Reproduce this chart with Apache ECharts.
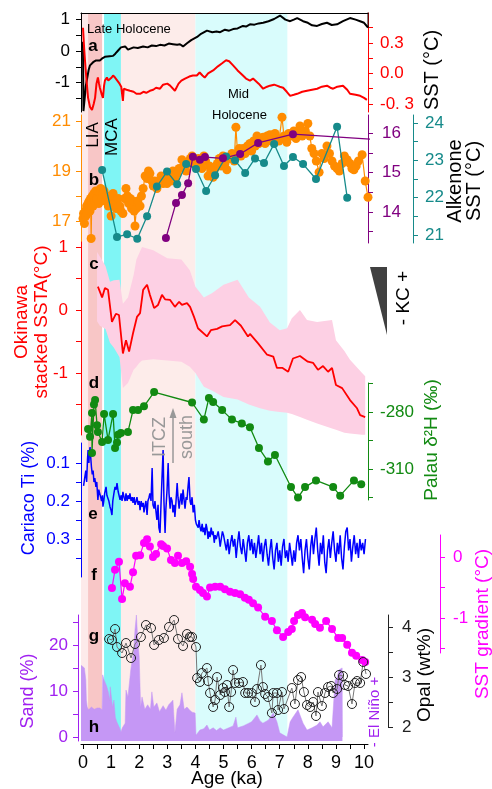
<!DOCTYPE html>
<html><head><meta charset="utf-8">
<script src="https://cdn.jsdelivr.net/npm/echarts@6/dist/echarts.min.js"></script>
<style>html,body{margin:0;padding:0;background:#fff}#c{width:492px;height:789px}</style>
</head><body><div id="c"></div><script>
// ---------------- DATA ----------------
const ageTicks = [0,1,2,3,4,5,6,7,8,9,10];
const periods = { pre:[-0.071,0.18], lia:[0.18,0.68], mca:[0.75,1.35], late:[1.35,4.0], mid:[4.0,7.27] };
const globalT = [[0.0,0.3],[0.015,-1.9],[0.06,-1.5],[0.1,-1.1],[0.14,-0.9],[0.2,-0.6],[0.25,-0.45],[0.3,-0.4],[0.36,-0.35],[0.45,-0.3],[0.52,-0.33],[0.6,-0.3],[0.7,-0.22],[0.78,-0.18],[0.85,-0.2],[0.95,-0.16],[1.07,-0.15],[1.15,-0.08],[1.25,0.02],[1.35,0.12],[1.42,0.17],[1.5,0.15],[1.6,0.05],[1.67,0.07],[1.8,0.12],[1.95,0.1],[2.14,0.15],[2.3,0.12],[2.45,0.18],[2.6,0.16],[2.74,0.2],[2.9,0.18],[3.05,0.24],[3.2,0.22],[3.35,0.2],[3.45,0.22],[3.56,0.15],[3.7,0.25],[3.85,0.35],[4.06,0.45],[4.2,0.55],[4.41,0.65],[4.6,0.6],[4.75,0.62],[4.88,0.6],[5.05,0.68],[5.2,0.65],[5.34,0.7],[5.5,0.72],[5.69,0.8],[5.8,0.78],[5.94,0.85],[6.1,0.84],[6.25,0.88],[6.41,0.9],[6.6,0.95],[6.8,1.02],[7.01,1.13],[7.2,1.0],[7.37,0.95],[7.5,1.0],[7.62,1.05],[7.83,0.95],[8.0,0.9],[8.15,0.82],[8.33,0.8],[8.5,0.86],[8.68,0.9],[8.85,0.83],[9.04,0.85],[9.25,0.95],[9.5,1.05],[9.7,1.0],[9.86,0.95],[10.0,0.9],[10.14,0.75]];
const regionalSST = [[0.0,0.45],[0.04,0.25],[0.07,0.13],[0.12,-0.05],[0.18,-0.24],[0.25,-0.33],[0.32,-0.36],[0.38,-0.3],[0.43,-0.24],[0.48,-0.1],[0.53,-0.04],[0.57,-0.1],[0.6,-0.14],[0.66,-0.2],[0.71,-0.24],[0.75,-0.12],[0.78,-0.07],[0.85,-0.04],[0.9,-0.07],[0.96,-0.06],[1.02,-0.04],[1.07,-0.02],[1.14,-0.04],[1.21,-0.05],[1.3,-0.1],[1.36,-0.13],[1.42,-0.27],[1.45,-0.15],[1.55,-0.16],[1.67,-0.17],[1.8,-0.18],[1.9,-0.2],[2.03,-0.2],[2.15,-0.18],[2.25,-0.19],[2.38,-0.17],[2.5,-0.16],[2.6,-0.14],[2.74,-0.15],[2.85,-0.11],[3.0,-0.1],[3.1,-0.12],[3.27,-0.17],[3.4,-0.1],[3.5,-0.07],[3.63,-0.05],[3.78,-0.03],[3.91,-0.02],[4.05,-0.02],[4.15,0.01],[4.25,-0.02],[4.33,-0.04],[4.45,0.0],[4.63,0.03],[4.8,0.07],[4.95,0.1],[5.09,0.13],[5.2,0.12],[5.34,0.08],[5.5,0.03],[5.69,-0.02],[5.8,-0.05],[5.94,-0.07],[6.05,-0.05],[6.12,-0.05],[6.25,-0.1],[6.41,-0.15],[6.55,-0.13],[6.65,-0.12],[6.8,-0.11],[6.9,-0.12],[7.0,-0.13],[7.12,-0.14],[7.25,-0.18],[7.37,-0.22],[7.5,-0.21],[7.62,-0.2],[7.8,-0.18],[7.97,-0.17],[8.15,-0.16],[8.33,-0.15],[8.5,-0.13],[8.68,-0.12],[8.8,-0.14],[8.9,-0.15],[9.05,-0.13],[9.25,-0.12],[9.4,-0.16],[9.5,-0.2],[9.7,-0.21],[9.86,-0.22],[10.0,-0.24],[10.1,-0.26]];
const orangeSST = [[0.0,17.1],[0.02,17.3],[0.05,16.9],[0.08,17.4],[0.1,17.2],[0.13,17.6],[0.15,17.3],[0.18,17.7],[0.2,17.5],[0.22,17.8],[0.25,17.4],[0.27,17.9],[0.29,16.3],[0.31,17.7],[0.33,18.0],[0.36,17.6],[0.39,18.1],[0.42,17.8],[0.45,18.2],[0.48,17.9],[0.5,17.9],[0.53,18.2],[0.56,17.7],[0.6,18.1],[0.63,18.3],[0.66,17.9],[0.71,18.1],[0.75,18.2],[0.8,17.8],[0.85,18.0],[0.9,17.6],[0.95,17.9],[1.0,17.2],[1.04,17.8],[1.07,18.1],[1.12,17.7],[1.18,17.5],[1.25,17.9],[1.3,17.6],[1.35,17.4],[1.42,17.3],[1.48,17.9],[1.53,18.3],[1.58,18.0],[1.63,17.7],[1.68,17.9],[1.73,17.5],[1.78,17.8],[1.82,17.4],[1.85,16.8],[1.9,17.5],[1.95,17.8],[2.03,17.6],[2.08,18.0],[2.14,18.3],[2.21,18.8],[2.28,18.7],[2.33,19.0],[2.38,18.9],[2.45,18.6],[2.5,18.4],[2.55,18.6],[2.63,18.3],[2.7,18.6],[2.78,18.8],[2.85,18.5],[2.92,18.7],[2.99,18.5],[3.06,18.8],[3.13,18.6],[3.2,19.0],[3.28,18.7],[3.35,18.9],[3.42,19.1],[3.52,19.45],[3.6,19.2],[3.67,19.0],[3.75,19.3],[3.82,19.5],[3.88,19.6],[3.95,19.3],[4.02,19.4],[4.1,19.5],[4.16,19.3],[4.23,19.1],[4.3,19.6],[4.36,19.4],[4.45,18.8],[4.5,19.2],[4.55,19.0],[4.63,18.75],[4.7,19.1],[4.78,19.3],[4.85,19.5],[4.92,19.2],[4.98,19.6],[5.05,19.3],[5.12,19.05],[5.2,19.5],[5.3,19.7],[5.38,19.4],[5.44,20.75],[5.5,19.7],[5.56,19.9],[5.62,19.6],[5.7,19.9],[5.77,19.7],[5.85,20.0],[5.94,20.1],[6.0,19.8],[6.07,20.2],[6.13,20.0],[6.19,20.4],[6.26,20.1],[6.33,20.3],[6.41,20.35],[6.48,20.1],[6.55,20.4],[6.65,20.45],[6.72,20.2],[6.83,20.5],[6.9,20.3],[6.97,20.2],[7.08,21.15],[7.15,20.4],[7.25,20.15],[7.32,20.5],[7.4,20.4],[7.5,20.6],[7.58,20.3],[7.65,20.5],[7.72,20.8],[7.8,20.4],[7.9,20.6],[8.0,20.9],[8.07,20.4],[8.14,19.9],[8.22,19.7],[8.3,19.4],[8.4,18.95],[8.5,19.7],[8.58,19.5],[8.68,20.0],[8.77,19.7],[8.86,19.4],[8.95,19.2],[9.04,19.1],[9.12,19.0],[9.22,19.3],[9.3,19.6],[9.4,19.45],[9.5,19.3],[9.57,19.1],[9.64,19.05],[9.72,19.2],[9.8,19.4],[9.93,19.65],[10.04,18.6],[10.14,17.95]];
const purpleSST = [[2.95,13.34],[3.31,14.23],[3.52,14.43],[3.74,14.73],[3.91,15.4],[4.16,15.32],[4.34,15.39],[4.98,15.36],[5.59,15.47],[6.23,15.75],[7.47,15.97],[10.6,15.83]];
const tealSST = [[0.68,22.74],[1.21,20.95],[1.57,21.02],[1.93,20.9],[2.28,21.5],[2.63,22.3],[2.99,22.7],[3.35,22.36],[3.67,22.9],[4.02,22.77],[4.38,22.18],[4.7,22.6],[5.09,23.1],[5.41,23.0],[5.77,22.66],[6.12,23.05],[6.44,22.93],[6.8,23.44],[7.15,22.85],[7.47,23.09],[7.83,22.9],[8.29,22.5],[9.04,23.9],[9.4,22.0]];
const okinawaSSTA = [[0.53,0.37],[0.68,0.2],[0.78,0.35],[0.89,0.32],[1.03,-0.19],[1.17,-0.06],[1.28,-0.08],[1.42,-0.69],[1.53,-0.48],[1.64,-0.66],[1.78,-0.37],[1.92,-0.11],[2.03,-0.05],[2.14,0.32],[2.28,0.4],[2.38,0.24],[2.53,0.03],[2.67,0.08],[2.81,0.24],[2.92,0.17],[3.1,0.16],[3.27,0.05],[3.42,0.13],[3.52,0.08],[3.7,0.11],[3.81,0.05],[3.95,-0.11],[4.09,-0.29],[4.41,-0.42],[4.55,-0.32],[4.77,-0.3],[4.95,-0.26],[5.23,-0.24],[5.41,-0.16],[5.62,-0.25],[5.87,-0.42],[5.94,-0.38],[6.23,-0.53],[6.55,-0.71],[6.77,-0.74],[6.9,-0.92],[7.1,-0.92],[7.3,-0.98],[7.47,-0.77],[7.72,-0.73],[8.0,-0.82],[8.19,-0.84],[8.36,-0.95],[8.54,-0.89],[8.72,-0.98],[8.86,-0.92],[9.0,-1.19],[9.22,-1.24],[9.5,-1.43],[9.75,-1.56],[9.86,-1.67],[10.04,-1.7]];
const okinawaBand = [[0.5,-0.18,0.92],[0.6,-0.25,0.85],[0.8,-0.3,0.7],[0.96,-0.52,0.45],[1.1,-0.6,0.47],[1.3,-0.75,0.48],[1.42,-1.24,0.1],[1.6,-1.16,0.2],[1.8,-0.95,0.55],[1.9,-0.9,0.8],[2.0,-0.84,0.9],[2.1,-0.8,1.0],[2.5,-0.78,0.95],[3.0,-0.8,0.82],[3.5,-0.82,0.8],[3.8,-0.9,0.63],[4.0,-1.0,0.37],[4.3,-1.22,0.2],[4.6,-1.28,0.27],[5.0,-1.38,0.4],[5.5,-1.42,0.48],[5.9,-1.5,0.2],[6.3,-1.56,0.05],[6.65,-1.6,-0.2],[7.0,-1.62,-0.32],[7.26,-1.63,-0.29],[7.43,-1.65,-0.13],[7.72,-1.7,0.0],[7.97,-1.74,-0.16],[8.33,-1.8,-0.19],[8.86,-1.88,-0.16],[9.0,-1.9,-0.48],[9.3,-1.95,-0.65],[9.5,-1.96,-0.79],[9.93,-1.98,-1.0],[10.04,-1.98,-1.05]];
const palauD2H = [[0.18,-289],[0.25,-293],[0.32,-280.5],[0.32,-301.6],[0.39,-276],[0.43,-273.7],[0.5,-287],[0.53,-290.5],[0.68,-295.8],[0.75,-281],[0.89,-294.7],[1.07,-281],[1.14,-299],[1.21,-296],[1.25,-292],[1.35,-291],[1.6,-290.5],[1.78,-279],[1.96,-279],[2.17,-277],[2.53,-269.5],[3.88,-275],[4.3,-284],[4.48,-272.6],[4.63,-274.7],[4.95,-279],[5.3,-284],[5.65,-286],[5.94,-288],[6.26,-299],[6.58,-306],[6.83,-302.6],[7.4,-319.5],[7.65,-325],[7.9,-319.5],[8.29,-316],[8.9,-319.5],[9.15,-324],[9.64,-316],[9.9,-318]];
const cariacoTi = [[0.02,0.16],[0.06,0.14],[0.1,0.12],[0.13,0.15],[0.16,0.09],[0.18,0.066],[0.21,0.1],[0.23,0.07],[0.25,0.058],[0.28,0.09],[0.3,0.11],[0.33,0.13],[0.36,0.12],[0.39,0.15],[0.42,0.14],[0.46,0.163],[0.49,0.15],[0.53,0.197],[0.56,0.17],[0.6,0.166],[0.63,0.19],[0.66,0.2],[0.69,0.185],[0.71,0.215],[0.74,0.2],[0.77,0.18],[0.8,0.17],[0.82,0.163],[0.85,0.185],[0.89,0.19],[0.92,0.2],[0.96,0.215],[1.0,0.225],[1.03,0.237],[1.06,0.2],[1.1,0.18],[1.14,0.163],[1.18,0.17],[1.21,0.153],[1.25,0.175],[1.28,0.18],[1.32,0.197],[1.36,0.185],[1.39,0.2],[1.42,0.176],[1.46,0.19],[1.5,0.2],[1.53,0.18],[1.57,0.2],[1.6,0.185],[1.64,0.195],[1.67,0.18],[1.71,0.2],[1.75,0.19],[1.78,0.205],[1.82,0.19],[1.85,0.21],[1.89,0.2],[1.92,0.19],[1.96,0.21],[2.0,0.2],[2.03,0.224],[2.07,0.2],[2.1,0.215],[2.14,0.205],[2.17,0.23],[2.21,0.21],[2.24,0.2],[2.28,0.237],[2.31,0.2],[2.35,0.19],[2.38,0.18],[2.42,0.2],[2.46,0.113],[2.49,0.21],[2.53,0.22],[2.56,0.2],[2.6,0.23],[2.63,0.25],[2.67,0.21],[2.7,0.27],[2.74,0.284],[2.78,0.2],[2.81,0.14],[2.85,0.066],[2.88,0.2],[2.92,0.284],[2.95,0.22],[2.99,0.171],[3.03,0.1],[3.06,0.18],[3.1,0.22],[3.13,0.19],[3.17,0.2],[3.2,0.23],[3.24,0.21],[3.27,0.242],[3.31,0.2],[3.35,0.153],[3.38,0.19],[3.42,0.22],[3.45,0.2],[3.49,0.18],[3.52,0.21],[3.56,0.17],[3.6,0.2],[3.63,0.22],[3.67,0.19],[3.7,0.197],[3.74,0.16],[3.77,0.137],[3.81,0.2],[3.84,0.21],[3.88,0.19],[3.92,0.23],[3.96,0.21],[4.0,0.25],[4.03,0.26],[4.06,0.258],[4.1,0.27],[4.13,0.25],[4.16,0.268],[4.2,0.28],[4.24,0.26],[4.27,0.282],[4.31,0.27],[4.34,0.29],[4.38,0.26],[4.41,0.272],[4.45,0.3],[4.48,0.28],[4.52,0.295],[4.56,0.27],[4.6,0.29],[4.63,0.28],[4.67,0.31],[4.7,0.29],[4.74,0.3],[4.77,0.303],[4.81,0.28],[4.85,0.3],[4.88,0.32],[4.92,0.3],[4.96,0.28],[5.0,0.29],[5.05,0.31],[5.1,0.33],[5.15,0.3],[5.2,0.34],[5.25,0.31],[5.3,0.29],[5.35,0.32],[5.4,0.3],[5.45,0.35],[5.5,0.31],[5.55,0.28],[5.6,0.32],[5.65,0.34],[5.7,0.3],[5.75,0.33],[5.8,0.36],[5.85,0.31],[5.9,0.29],[5.95,0.33],[6.0,0.3],[6.05,0.34],[6.1,0.31],[6.15,0.35],[6.2,0.32],[6.25,0.29],[6.3,0.34],[6.35,0.31],[6.4,0.36],[6.45,0.32],[6.5,0.3],[6.55,0.34],[6.6,0.37],[6.65,0.33],[6.7,0.3],[6.75,0.35],[6.8,0.38],[6.85,0.33],[6.9,0.31],[6.95,0.36],[7.0,0.33],[7.05,0.37],[7.1,0.32],[7.15,0.3],[7.2,0.35],[7.25,0.33],[7.3,0.36],[7.35,0.31],[7.4,0.34],[7.45,0.37],[7.5,0.33],[7.55,0.36],[7.6,0.31],[7.65,0.29],[7.7,0.33],[7.75,0.3],[7.8,0.35],[7.85,0.39],[7.9,0.33],[7.95,0.3],[8.0,0.35],[8.05,0.38],[8.1,0.32],[8.15,0.29],[8.2,0.34],[8.25,0.3],[8.3,0.27],[8.35,0.33],[8.4,0.37],[8.45,0.31],[8.5,0.34],[8.55,0.29],[8.6,0.36],[8.65,0.39],[8.7,0.33],[8.75,0.3],[8.8,0.35],[8.85,0.31],[8.9,0.28],[8.95,0.33],[9.0,0.36],[9.05,0.31],[9.1,0.34],[9.15,0.29],[9.2,0.35],[9.25,0.38],[9.3,0.32],[9.35,0.28],[9.4,0.27],[9.45,0.33],[9.5,0.3],[9.55,0.36],[9.6,0.32],[9.65,0.29],[9.7,0.34],[9.75,0.31],[9.8,0.35],[9.85,0.3],[9.9,0.33],[9.95,0.31],[10.0,0.34],[10.05,0.3]];
const sstGradient = [[1.03,-0.51],[1.14,-0.21],[1.28,-0.08],[1.39,-0.69],[1.49,-0.43],[1.67,-0.49],[1.78,-0.25],[1.89,0.02],[2.03,0.03],[2.17,0.23],[2.28,0.29],[2.38,0.17],[2.49,0.0],[2.6,0.05],[2.78,0.21],[2.85,0.18],[2.99,0.14],[3.13,-0.05],[3.27,-0.1],[3.38,0.02],[3.52,-0.1],[3.67,-0.07],[3.81,-0.16],[3.88,-0.28],[3.92,-0.36],[4.02,-0.49],[4.16,-0.54],[4.27,-0.59],[4.41,-0.65],[4.52,-0.5],[4.7,-0.49],[4.88,-0.49],[5.05,-0.53],[5.23,-0.57],[5.41,-0.59],[5.59,-0.61],[5.76,-0.67],[5.9,-0.7],[6.05,-0.76],[6.23,-0.83],[6.48,-0.98],[6.72,-1.05],[6.9,-1.2],[7.12,-1.31],[7.3,-1.23],[7.43,-1.18],[7.51,-1.05],[7.65,-0.95],[7.79,-0.92],[7.9,-0.99],[8.15,-1.03],[8.26,-1.1],[8.43,-1.16],[8.65,-1.05],[8.86,-1.18],[9.08,-1.33],[9.22,-1.33],[9.4,-1.44],[9.57,-1.57],[9.72,-1.62],[9.93,-1.69],[10.04,-1.72]];
const opal = [[0.93,3.76],[1.03,3.74],[1.14,3.96],[1.21,3.6],[1.39,3.48],[1.53,3.68],[1.71,3.38],[1.85,3.66],[2.06,3.8],[2.24,4.04],[2.42,3.98],[2.53,3.64],[2.7,3.74],[2.88,3.78],[3.06,4.0],[3.24,4.14],[3.38,3.76],[3.56,3.62],[3.7,3.86],[3.8,3.8],[3.88,3.8],[4.02,3.6],[4.06,2.98],[4.16,2.9],[4.23,3.08],[4.41,3.18],[4.45,2.92],[4.52,2.68],[4.63,2.4],[4.7,2.54],[4.77,3.0],[4.88,2.64],[4.98,2.78],[5.05,2.7],[5.12,2.84],[5.2,2.4],[5.27,2.7],[5.34,3.14],[5.41,2.88],[5.55,2.88],[5.69,2.9],[5.77,2.68],[5.87,2.68],[6.0,2.68],[6.12,2.5],[6.19,2.76],[6.33,3.24],[6.4,2.8],[6.48,2.66],[6.58,2.6],[6.72,2.28],[6.77,2.68],[6.9,2.68],[6.94,2.34],[7.08,2.7],[7.15,2.36],[7.43,2.78],[7.54,2.46],[7.65,2.94],[7.76,3.0],[7.86,2.7],[7.97,2.44],[8.08,2.4],[8.19,2.5],[8.29,2.22],[8.36,2.7],[8.5,2.42],[8.61,2.68],[8.72,2.8],[8.83,2.82],[8.9,2.68],[9.04,2.76],[9.11,3.04],[9.25,3.02],[9.32,2.84],[9.43,2.82],[9.57,2.46],[9.68,2.88],[9.75,2.92],[9.86,2.88],[9.97,3.3],[10.07,3.06]];
const sand = [[-0.07,15.6],[0.0,15.6],[0.05,15.0],[0.1,12.4],[0.12,8.0],[0.15,6.5],[0.2,5.9],[0.3,6.5],[0.4,6.0],[0.5,6.3],[0.6,6.3],[0.68,5.9],[0.7,13.5],[0.75,12.4],[0.8,11.7],[0.85,10.9],[0.9,9.8],[0.95,8.0],[0.97,10.9],[1.05,6.5],[1.1,8.0],[1.15,4.3],[1.2,3.3],[1.3,2.0],[1.35,1.1],[1.4,2.0],[1.5,3.0],[1.53,10.2],[1.6,8.7],[1.7,14.6],[1.75,16.7],[1.8,18.2],[1.85,23.3],[1.9,26.5],[1.95,21.0],[2.0,17.4],[2.05,6.5],[2.1,8.7],[2.2,6.0],[2.3,7.0],[2.4,6.0],[2.45,9.8],[2.52,6.5],[2.63,7.4],[2.72,5.5],[2.85,6.8],[2.95,5.8],[3.05,7.0],[3.2,8.0],[3.27,0.9],[3.35,6.0],[3.45,7.0],[3.52,9.6],[3.6,6.0],[3.7,6.5],[3.8,5.8],[3.88,5.4],[3.99,5.2],[4.02,0.4],[4.16,1.5],[4.3,1.8],[4.41,2.6],[4.5,1.5],[4.63,2.0],[4.75,1.4],[4.88,2.0],[5.0,1.5],[5.15,1.9],[5.34,2.4],[5.44,4.3],[5.5,2.0],[5.7,2.4],[5.9,3.0],[6.0,3.3],[6.19,4.8],[6.3,3.5],[6.4,3.0],[6.6,3.7],[6.77,5.2],[6.9,3.3],[7.0,0.9],[7.26,0.0],[7.37,3.3],[7.47,4.3],[7.65,5.9],[7.72,5.5],[7.83,3.0],[7.97,1.5],[8.15,2.0],[8.33,2.6],[8.43,3.3],[8.54,2.2],[8.72,3.3],[8.86,2.0],[8.97,12.4],[9.04,13.0],[9.11,14.6],[9.22,15.0],[9.23,0.0]];

// ---------------- LAYOUT ----------------
const X_MIN = -0.071, X_MAX = 10.14, GL = 81, GW = 287;
const FONT = '"Liberation Sans", Arial, sans-serif';
const C = { black:'#000', red:'#ff0000', orange:'#ff8c00', purple:'#800080', teal:'#168a8a', green:'#128a12', blue:'#0000ff', magenta:'#ff00ff', violet:'#a020f0', sandFill:'#c597f5', pink:'#fdd0e4' };
const bandColors = { pre:'#fdeaea', lia:'#f8c6c6', mca:'#7ff5f5', late:'#fdecea', mid:'#d9fcfc' };

const gridDefs = [[13,728],[13,99],[115,128],[242,193],[383,117],[443,134],[535,118],[615,112],[615,126]];
const grid = gridDefs.map(g => ({left:GL, top:g[0], width:GW, height:g[1]}));

const xAxis = gridDefs.map((g,i) => ({type:'value', gridIndex:i, min:X_MIN, max:X_MAX, show:false, axisLine:{onZero:false}, splitLine:{show:false}}));
xAxis[1] = {type:'value', gridIndex:1, min:X_MIN, max:X_MAX, position:'top', axisLine:{onZero:false, lineStyle:{color:'#000',width:1}}, axisTick:{show:false}, axisLabel:{show:false}, splitLine:{show:false}};
const halfTicks = []; for (let v=0; v<=10; v+=0.5) halfTicks.push(v);
xAxis[8] = {type:'value', gridIndex:8, min:X_MIN, max:X_MAX, position:'bottom', offset:3,
  axisLine:{onZero:false, lineStyle:{color:'#000',width:1}}, axisTick:{customValues:halfTicks, length:5, lineStyle:{color:'#000'}},
  axisLabel:{customValues:ageTicks, color:'#000', fontSize:18, fontFamily:FONT, margin:10}, splitLine:{show:false}};

function ya(gi, pos, min, max, color, ticks, labels, o) {
  o = o || {};
  return {type:'value', gridIndex:gi, position:pos, min, max, offset:o.offset||0, inverse:!!o.inverse,
    axisLine:{show:true, onZero:false, lineStyle:{color:o.lineColor||color, width:1}},
    axisTick:{show:true, customValues:ticks, length:5, lineStyle:{color:o.lineColor||color}},
    axisLabel:{customValues:labels, color, fontSize:17, fontFamily:FONT, margin:o.margin||12, formatter:o.fmt},
    splitLine:{show:false}};
}
const yAxis = [
  {type:'value', gridIndex:0, min:0, max:1, show:false},
  ya(1,'left',-1.93,1.21,'#000',[-1.5,-1,-0.5,0,0.5,1],[-1,0,1],{margin:11}),
  ya(1,'right',-0.379,0.595,C.red,[-0.3,-0.15,0,0.15,0.3,0.45],[-0.3,0,0.3],{fmt:v=> v<0 ? '-0. 3' : v.toFixed(1)}),
  ya(2,'left',16.12,21.24,C.orange,[17,18,19,20,21],[17,19,21],{margin:10}),
  ya(2,'right',13.215,16.456,C.purple,[13.5,14,14.5,15,15.5,16],[14,15,16],{margin:14}),
  ya(2,'right',20.786,24.214,C.teal,[21,21.5,22,22.5,23,23.5,24],[21,22,23,24],{offset:45}),
  ya(3,'left',-1.984,1.079,C.red,[-1.5,-1,-0.5,0,0.5,1],[-1,0,1],{margin:13}),
  ya(4,'right',-326.3,-264.74,C.green,[-325,-310,-295,-280,-265],[-310,-280]),
  ya(5,'left',0.0474,0.4,C.blue,[0.1,0.15,0.2,0.25,0.3,0.35],[0.1,0.2,0.3],{inverse:true, margin:11, fmt:v=>v.toFixed(1)}),
  ya(6,'right',-1.574,0.36,C.magenta,[-1.5,-1,-0.5,0],[-1,0],{offset:72, margin:13}),
  ya(7,'right',2,4.24,'#222',[2,2.5,3,3.5,4],[2,3,4],{offset:20, margin:14}),
  ya(8,'left',-0.87,26.5,C.violet,[0,5,10,15,20,25],[0,10,20],{offset:3, margin:10})
];

const bandList = Object.keys(periods).map(k => [periods[k][0], periods[k][1], k]);

const series = [
  {type:'custom', xAxisIndex:0, yAxisIndex:0, z:0, silent:true, data:bandList,
   renderItem:(p, api) => {
     const k = bandList[p.dataIndex][2];
     const a = api.coord([api.value(0), 1]), b = api.coord([api.value(1), 0]);
     return {type:'rect', shape:{x:a[0], y:a[1], width:b[0]-a[0], height:b[1]-a[1]}, style:{fill:bandColors[k]}};
   }},
  {type:'custom', xAxisIndex:3, yAxisIndex:6, z:1, silent:true, clip:false, data:okinawaBand,
   renderItem:(p, api) => {
     if (p.dataIndex !== 0) return null;
     const up = okinawaBand.map(d => api.coord([d[0], d[2]]));
     const lo = okinawaBand.slice().reverse().map(d => api.coord([d[0], d[1]]));
     return {type:'polygon', shape:{points:up.concat(lo)}, style:{fill:C.pink}};
   }},
  {type:'line', xAxisIndex:1, yAxisIndex:1, data:globalT, showSymbol:false, lineStyle:{color:'#000', width:2}, z:3},
  {type:'line', xAxisIndex:1, yAxisIndex:2, data:regionalSST, showSymbol:false, lineStyle:{color:C.red, width:2}, z:3},
  {type:'line', xAxisIndex:2, yAxisIndex:3, data:orangeSST, symbol:'circle', symbolSize:9, itemStyle:{color:C.orange}, lineStyle:{color:C.orange, width:1.2}, z:3},
  {type:'line', xAxisIndex:2, yAxisIndex:5, data:tealSST, symbol:'circle', symbolSize:8, itemStyle:{color:C.teal}, lineStyle:{color:C.teal, width:1.3}, z:4},
  {type:'line', xAxisIndex:2, yAxisIndex:4, data:purpleSST, symbol:'circle', symbolSize:8, itemStyle:{color:C.purple}, lineStyle:{color:C.purple, width:1.3}, z:4},
  {type:'line', xAxisIndex:3, yAxisIndex:6, data:okinawaSSTA, showSymbol:false, lineStyle:{color:C.red, width:1.8}, z:3},
  {type:'line', xAxisIndex:4, yAxisIndex:7, data:palauD2H, symbol:'circle', symbolSize:8, itemStyle:{color:C.green}, lineStyle:{color:C.green, width:1.3}, z:4},
  {type:'line', xAxisIndex:5, yAxisIndex:8, data:cariacoTi, showSymbol:false, lineStyle:{color:C.blue, width:1.5}, z:3},
  {type:'line', xAxisIndex:6, yAxisIndex:9, data:sstGradient, clip:false, symbol:'circle', symbolSize:8, itemStyle:{color:C.magenta}, lineStyle:{color:C.magenta, width:1.2}, z:4},
  {type:'line', xAxisIndex:8, yAxisIndex:11, data:sand, showSymbol:false, lineStyle:{color:C.sandFill, width:0.5}, areaStyle:{color:C.sandFill, opacity:1, origin:'start'}, z:2},
  {type:'line', xAxisIndex:7, yAxisIndex:10, data:opal, symbol:'circle', symbolSize:9, itemStyle:{color:'rgba(0,0,0,0)', borderColor:'#222', borderWidth:1}, lineStyle:{color:'#777', width:1}, z:4}
];

function txt(x, y, text, size, color, opt) {
  opt = opt || {};
  return {type:'text', x, y, rotation:opt.rot ? Math.PI/2 : 0, z:10,
    style:{text, fill:color, font:(opt.bold?'bold ':'') + size + 'px ' + FONT, align:opt.align||'center', verticalAlign:'middle'}};
}
const graphic = [
  {type:'line', shape:{x1:368, y1:12.5, x2:368, y2:28}, style:{stroke:'#000', lineWidth:1}, z:10},
  txt(87, 29, 'Late Holocene', 13, '#000', {align:'left'}),
  txt(93, 46, 'a', 17, '#000', {bold:true}),
  txt(228, 94, 'Mid', 13, '#000', {align:'left'}),
  txt(212, 115, 'Holocene', 13, '#000', {align:'left'}),
  txt(93, 135, 'LIA', 17, '#000', {rot:true}),
  txt(112, 137, 'MCA', 17, '#000', {rot:true}),
  txt(94, 180, 'b', 17, '#000', {bold:true}),
  txt(94, 264, 'c', 17, '#000', {bold:true}),
  txt(94, 383, 'd', 17, '#000', {bold:true}),
  txt(93, 514, 'e', 17, '#000', {bold:true}),
  txt(94, 575, 'f', 17, '#000', {bold:true}),
  txt(94, 636, 'g', 17, '#000', {bold:true}),
  txt(94, 727, 'h', 17, '#000', {bold:true}),
  txt(432, 70, 'SST (°C)', 20, '#000', {rot:true}),
  txt(455, 181, 'Alkenone', 20, '#000', {rot:true}),
  txt(474, 181, 'SST (°C)', 20, '#000', {rot:true}),
  txt(22, 322, 'Okinawa', 19, C.red, {rot:true}),
  txt(42, 322, 'stacked SSTA(°C)', 19, C.red, {rot:true}),
  txt(432, 440, 'Palau δ²H (‰)', 19, C.green, {rot:true}),
  txt(29, 498, 'Cariaco Ti (%)', 18, C.blue, {rot:true}),
  txt(483, 624, 'SST gradient (°C)', 19, C.magenta, {rot:true}),
  txt(425, 675, 'Opal (wt%)', 19, '#000', {rot:true}),
  txt(28, 691, 'Sand (%)', 18, C.violet, {rot:true}),
  txt(375, 712, '- El Niño +', 15, C.violet, {rot:true}),
  txt(404, 298, '- KC +', 19, '#000', {rot:true}),
  {type:'polygon', shape:{points:[[370,267],[387,267],[387,335]]}, style:{fill:'#404040'}, z:10},
  txt(160, 437, 'ITCZ', 18, '#999', {rot:true}),
  txt(187, 437, 'south', 18, '#999', {rot:true}),
  {type:'line', shape:{x1:173, y1:463, x2:173, y2:416}, style:{stroke:'#999', lineWidth:1.5}, z:10},
  {type:'polygon', shape:{points:[[169.5,418],[176.5,418],[173,408]]}, style:{fill:'#999'}, z:10},
  txt(227, 779, 'Age (ka)', 19, '#000')
];

const chart = echarts.init(document.getElementById('c'), null, {renderer:'canvas'});
chart.setOption({animation:false, textStyle:{fontFamily:FONT}, grid, xAxis, yAxis, series, graphic});
</script></body></html>
